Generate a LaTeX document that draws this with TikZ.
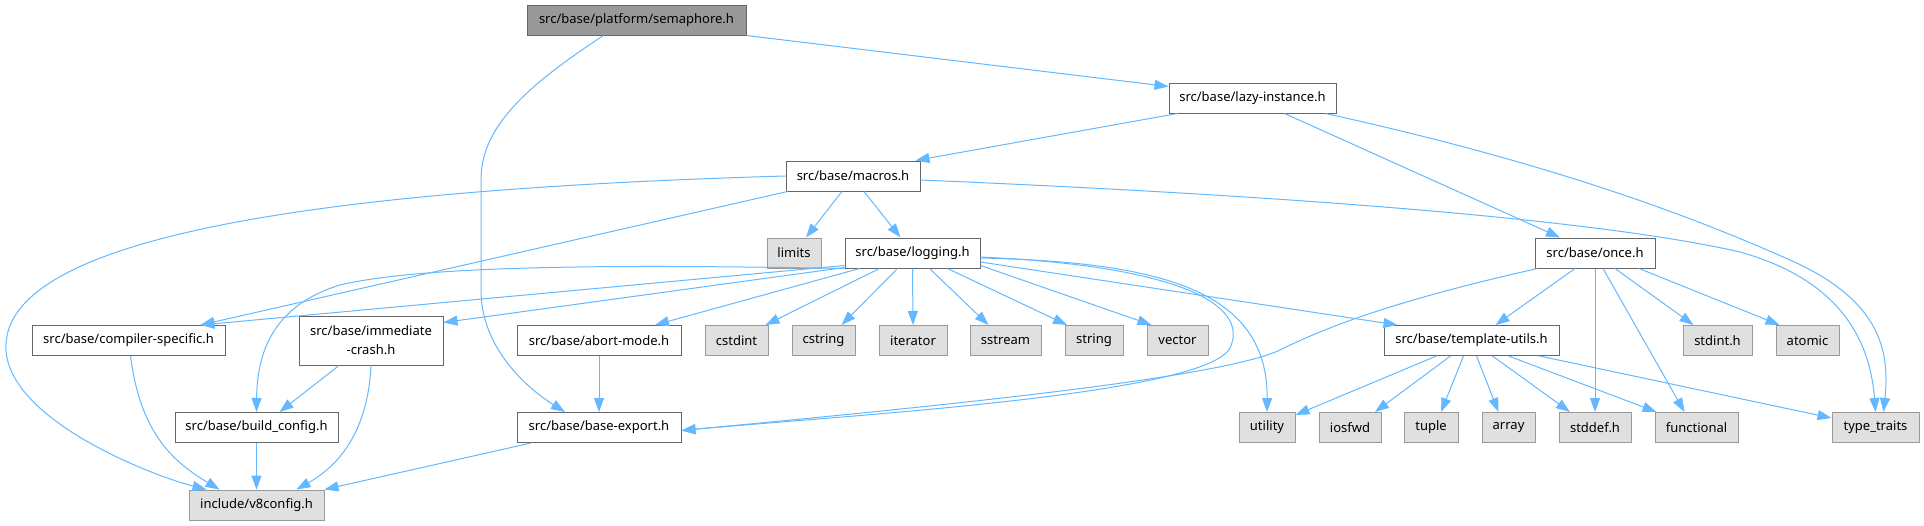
\documentclass[tikz,border=0pt]{standalone}
\usepackage{fontspec}
\setmainfont{Noto Sans}
\usetikzlibrary{arrows.meta,calc}
\definecolor{edgeblue}{HTML}{63B8FF}
\definecolor{boxline}{HTML}{666666}
\definecolor{sysline}{HTML}{999999}
\definecolor{sysfill}{HTML}{E0E0E0}
\definecolor{rootfill}{HTML}{999999}
\begin{document}
\begin{tikzpicture}[x=1pt,y=-1pt,every node/.style={font=\fontsize{13}{19}\selectfont,inner sep=0pt,minimum height=30pt,align=center},filebox/.style={draw=boxline,fill=white,line width=1pt},sysbox/.style={draw=sysline,fill=sysfill,line width=1pt},rootbox/.style={draw=boxline,fill=rootfill,line width=1pt},dep/.style={edgeblue,line width=1pt,-{Triangle[length=14pt,width=10pt]}}]
\useasboundingbox (0,0) rectangle (1924,525);
% rows of files
\node[rootbox,minimum width=219pt] (sem) at (636.5,20){src/base/platform/semaphore.h};
\node[filebox,minimum width=167pt] (lazy) at (1252.5,98){src/base/lazy-instance.h};
\node[filebox,minimum width=134pt] (macros) at (853,176){src/base/macros.h};
\node[sysbox,minimum width=54pt] (limits) at (794,253){limits};\node[filebox,minimum width=135pt] (logging) at (912.5,253){src/base/logging.h};\node[filebox,minimum width=120pt] (once) at (1595,253){src/base/once.h};
\node[filebox,minimum width=193pt] (cspec) at (128.5,340.5){src/base/compiler-specific.h};\node[filebox,minimum width=144pt,minimum height=49pt] (icrash) at (371,340.5){src/base/immediate\\-crash.h};\node[filebox,minimum width=164pt] (abortm) at (599,340.5){src/base/abort-mode.h};
\node[sysbox,minimum width=63pt] (cstdint) at (736.5,340.5){cstdint};\node[sysbox,minimum width=63pt] (cstring) at (823.5,340.5){cstring};\node[sysbox,minimum width=68pt] (iterator) at (913,340.5){iterator};\node[sysbox,minimum width=71pt] (sstream) at (1005.5,340.5){sstream};\node[sysbox,minimum width=58pt] (string) at (1094,340.5){string};\node[sysbox,minimum width=61pt] (vector) at (1177.5,340.5){vector};
\node[filebox,minimum width=175pt] (tutils) at (1471.5,340.5){src/base/template-utils.h};\node[sysbox,minimum width=69pt] (stdint) at (1717.5,340.5){stdint.h};\node[sysbox,minimum width=63pt] (atomic) at (1807.5,340.5){atomic};
\node[filebox,minimum width=163pt] (bconf) at (256.5,427.5){src/base/build\_config.h};\node[filebox,minimum width=164pt] (bexport) at (599,427.5){src/base/base-export.h};
\node[sysbox,minimum width=56pt] (utility) at (1267,427.5){utility};\node[sysbox,minimum width=62pt] (iosfwd) at (1350,427.5){iosfwd};\node[sysbox,minimum width=54pt] (tuple) at (1431,427.5){tuple};\node[sysbox,minimum width=53pt] (array) at (1508.5,427.5){array};\node[sysbox,minimum width=72pt] (stddef) at (1595,427.5){stddef.h};\node[sysbox,minimum width=83pt] (functional) at (1696.5,427.5){functional};\node[sysbox,minimum width=87pt] (ttraits) at (1875.5,427.5){type\_traits};
\node[sysbox,minimum width=135pt] (v8cfg) at (256.5,505){include/v8config.h};
% include edges
\draw[dep] (sem.south east)--([yshift=-4pt]lazy.north west);
\draw[dep] ([xshift=-33pt]sem.south) .. controls (520,90) and (481,130) .. (481,180)--(481,290) .. controls (481,350) and (530,390) .. ([xshift=-34pt]bexport.north);
\draw[dep] ([xshift=-75pt]lazy.south)--([xshift=-5pt]macros.north east);\draw[dep] ([xshift=32pt]lazy.south)--([xshift=-35pt]once.north);
\draw[dep] ([xshift=-11pt]lazy.south east) .. controls (1560,165) and (1700,220) .. (1790,260) .. controls (1880,300) and (1890,350) .. ([xshift=8pt]ttraits.north);
\draw[dep] (macros.west) .. controls (300,190) and (0,240) .. (6,350) .. controls (10,420) and (150,475) .. ([xshift=-50pt]v8cfg.north);
\draw[dep] ([xshift=2pt]macros.south west)--([xshift=72pt]cspec.north);\draw[dep] ([xshift=-11pt]macros.south)--([xshift=12pt]limits.north);\draw[dep] ([xshift=11pt]macros.south)--([xshift=-12pt]logging.north);
\draw[dep] ([yshift=-4pt]macros.east) .. controls (1300,196) and (1600,220) .. (1740,252) .. controls (1840,280) and (1870,340) .. (ttraits.north);
\draw[dep] ([yshift=3pt]logging.south west)--([xshift=72pt]cspec.north);
\draw[dep] (logging.south west) .. controls (600,264) and (420,266) .. (340,285) .. controls (275,305) and (257,350) .. (bconf.north);
\draw[dep] ([yshift=1pt]logging.south west)--([yshift=-7pt]icrash.north east);\draw[dep] ([xshift=15pt]logging.south west)--([xshift=56pt]abortm.north);
\draw[dep] ([xshift=-33pt]logging.south)--([xshift=29pt]cstdint.north);\draw[dep] ([xshift=-15pt]logging.south)--([xshift=18pt]cstring.north);\draw[dep] (logging.south)--(iterator.north);
\draw[dep] ([xshift=17pt]logging.south)--([xshift=-17pt]sstream.north);\draw[dep] ([xshift=35pt]logging.south)--([xshift=-27pt]string.north);\draw[dep] ([yshift=3pt]logging.south east)--([xshift=-26pt]vector.north);
\draw[dep] ([yshift=-4pt]logging.east) .. controls (1180,266) and (1250,305) .. (1230,348) .. controls (1205,395) and (850,415) .. ([yshift=-3pt]bexport.east);
\draw[dep] ([yshift=-5pt]logging.east) .. controls (1160,262) and (1268,290) .. (utility.north);\draw[dep] ([yshift=-9pt]logging.east)--([xshift=14pt]tutils.north west);
\draw[dep] ([xshift=3pt]once.south west) .. controls (1420,295) and (1340,320) .. (1280,350) .. controls (1220,378) and (950,405) .. ([yshift=-3pt]bexport.east);
\draw[dep] ([xshift=-20pt]once.south)--([xshift=24pt]tutils.north);\draw[dep] (once.south)--(stddef.north);\draw[dep] ([xshift=8pt]once.south)--([xshift=-12pt]functional.north);
\draw[dep] ([xshift=20pt]once.south)--([xshift=-24pt]stdint.north);\draw[dep] ([xshift=44pt]once.south)--([xshift=-28pt]atomic.north);
\draw[dep] ([xshift=-35pt]tutils.south)--([yshift=-3pt]utility.north east);\draw[dep] ([xshift=-21pt]tutils.south)--([xshift=25pt]iosfwd.north);\draw[dep] ([xshift=-8pt]tutils.south)--([xshift=10pt]tuple.north);
\draw[dep] ([xshift=5pt]tutils.south)--([xshift=-10pt]array.north);\draw[dep] ([xshift=21pt]tutils.south)--([xshift=-25pt]stddef.north);\draw[dep] ([xshift=37pt]tutils.south)--([xshift=2pt]functional.north west);
\draw[dep] ([xshift=-20pt]tutils.south east)--([yshift=-6pt]ttraits.north west);
\draw[dep] ([xshift=2pt]cspec.south) .. controls (140,430) and (170,460) .. ([xshift=-37pt]v8cfg.north);
\draw[dep] ([xshift=-32pt]icrash.south)--([xshift=23pt]bconf.north);\draw[dep] (icrash.south) .. controls (368,430) and (340,465) .. ([xshift=40pt]v8cfg.north);
\draw[dep] (bconf.south)--(v8cfg.north);\draw[dep] (abortm.south)--(bexport.north);\draw[dep] ([xshift=-68pt]bexport.south)--(v8cfg.north east);
\end{tikzpicture}
\end{document}
